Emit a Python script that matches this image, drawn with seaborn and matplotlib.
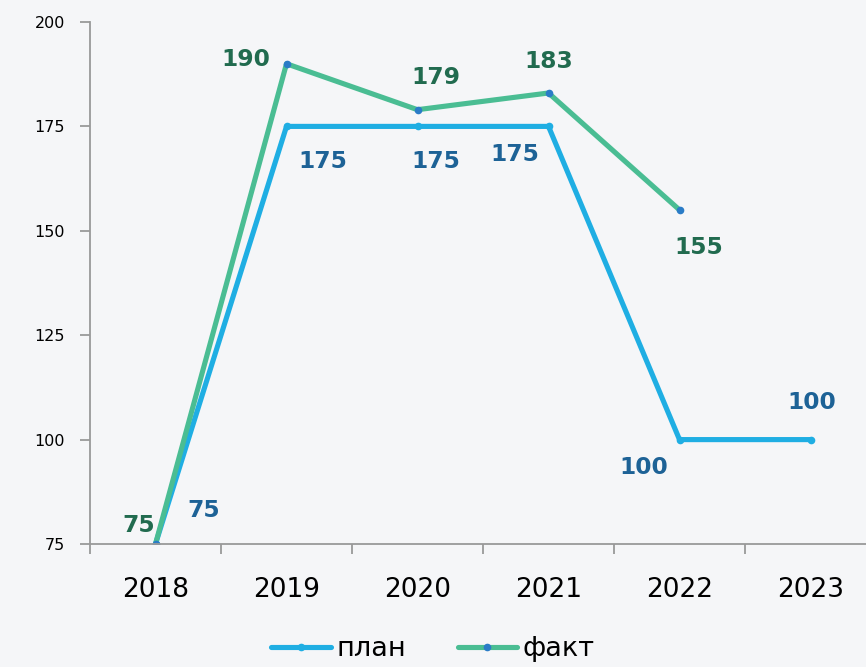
import numpy as np
import pandas as pd
import seaborn as sns
import matplotlib.pyplot as plt

years = ["2018", "2019", "2020", "2021", "2022", "2023"]
plan = [75, 175, 175, 175, 100, 100]
fact = [75, 190, 179, 183, 155, np.nan]

# label offsets in points (dx, dy)
plan_offsets = [(35, 24), (26, -25), (13, -25), (-24, -20), (-26, -20), (1, 27)]
fact_offsets = [(-12, 13), (-29, 3), (13, 23), (0, 23), (14, -27)]

bg = "#F5F6F8"
c_plan = "#1FAEE3"
c_fact = "#4ABD93"
c_plan_txt = "#1D6296"
c_fact_txt = "#216B4F"

sns.set_style("white")
plt.rcParams['font.family'] = ['DejaVu Sans']
plt.rcParams['text.color'] = 'black'
plt.rcParams['xtick.color'] = 'black'
plt.rcParams['ytick.color'] = 'black'

df = pd.DataFrame({
    "x": list(range(len(years))) * 2,
    "value": plan + fact,
    "series": ["план"] * len(years) + ["факт"] * len(years),
})

fig = plt.figure(figsize=(8.66, 6.67), dpi=100, facecolor=bg)
ax = fig.add_axes([90 / 866, 123 / 667, 786 / 866, 522 / 667])
ax.set_facecolor(bg)

sns.lineplot(data=df[df.series == "план"], x="x", y="value", ax=ax, color=c_plan,
             linewidth=3.7, marker="o", markersize=5.5, markerfacecolor=c_plan,
             markeredgewidth=0, label="план")
sns.lineplot(data=df[df.series == "факт"].dropna(), x="x", y="value", ax=ax, color=c_fact,
             linewidth=3.7, marker="o", markersize=5.5, markerfacecolor="#2A7CC7",
             markeredgewidth=0, label="факт")

for i, v in enumerate(plan):
    ax.annotate(str(v), (i, v), xytext=plan_offsets[i], textcoords="offset points",
                ha="center", va="center", fontsize=16.8, fontweight="bold", color=c_plan_txt)
for i, v in enumerate(fact):
    if np.isnan(v):
        continue
    ax.annotate(str(int(v)), (i, v), xytext=fact_offsets[i], textcoords="offset points",
                ha="center", va="center", fontsize=16.8, fontweight="bold", color=c_fact_txt)

ax.set_xlim(-0.5, 5.5)
ax.set_ylim(75, 200)
ax.set_yticks([75, 100, 125, 150, 175, 200])
ax.set_xticks(np.arange(-0.5, 6, 1))
ax.set_xticklabels([])
ax.set_xticks(range(len(years)), minor=True)
ax.set_xticklabels(years, minor=True, fontsize=19)
ax.tick_params(axis="x", which="major", length=7, color="#999999", width=1.3, direction="out", bottom=True)
ax.tick_params(axis="x", which="minor", length=0, pad=24)
ax.tick_params(axis="y", length=7, color="#999999", width=1.3, direction="out", left=True,
               labelsize=11.5, pad=11)
ax.set_xlabel("")
ax.set_ylabel("")

for s in ["top", "right"]:
    ax.spines[s].set_visible(False)
for s in ["left", "bottom"]:
    ax.spines[s].set_color("#999999")
    ax.spines[s].set_linewidth(1.3)

ax.legend(loc="center", bbox_to_anchor=(0.5, 0.027), bbox_transform=fig.transFigure,
          ncol=2, frameon=False, fontsize=19.5, handlelength=2.2, handletextpad=0.2,
          columnspacing=1.9)

plt.savefig("out.png", dpi=100, facecolor=bg)
